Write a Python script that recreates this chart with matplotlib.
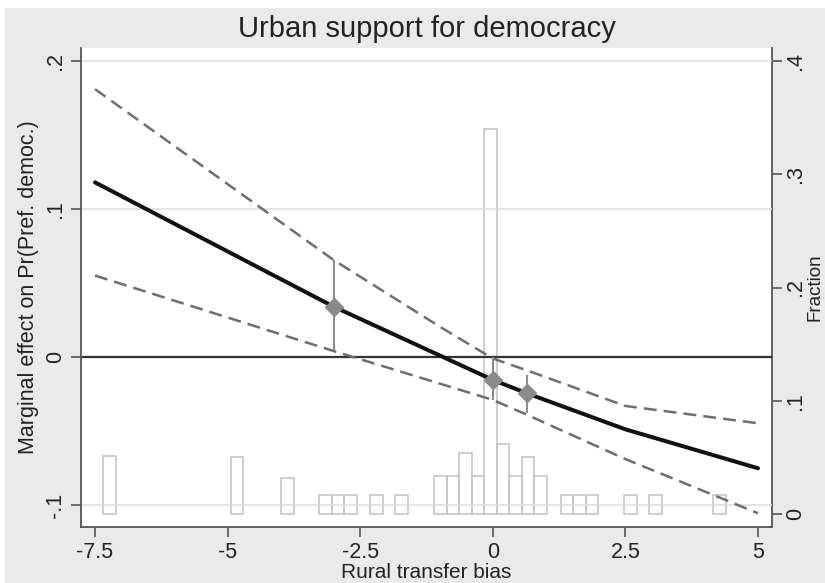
import numpy as np
import matplotlib
matplotlib.use("Agg")
import matplotlib.pyplot as plt
from matplotlib.patches import Rectangle

plt.rcParams['font.family'] = ['Liberation Sans', 'DejaVu Sans']

# marginal effect curve and 95% band
effect_x = [-7.5, -3, -1, 0, 0.64, 2.5, 5]
effect = [0.118, 0.034, 0.001, -0.0155, -0.0245, -0.0489, -0.0752]
ci_upper = [0.181, 0.0655, 0.0205, -0.001, -0.009, -0.0331, -0.0448]
ci_lower = [0.055, 0.004, -0.018, -0.029, -0.039, -0.069, -0.1056]

# point estimates with error bars
point_x = [-3, 0, 0.64]
point_y = [0.034, -0.0155, -0.0245]
point_lo = [0.0047, -0.029, -0.0376]
point_hi = [0.0655, 0.0002, -0.0122]

# histogram of rural transfer bias (fraction)
hist_centers = [-7.23, -4.82, -3.87, -3.15, -2.92, -2.68, -2.19, -1.72,
                -0.99, -0.75, -0.51, -0.28, -0.045, 0.19, 0.43, 0.66, 0.90,
                1.40, 1.635, 1.87, 2.60, 3.07, 4.27]
hist_frac = [0.051, 0.050, 0.032, 0.0165, 0.0165, 0.0165, 0.0165, 0.0165,
             0.0336, 0.0336, 0.0536, 0.0336, 0.340, 0.0615, 0.0336, 0.0506, 0.0336,
             0.0165, 0.0165, 0.0165, 0.0165, 0.0165, 0.0165]
bin_width = 0.236

xticks = [-7.5, -5, -2.5, 0, 2.5, 5]
xticklabels = ['-7.5', '-5', '-2.5', '0', '2.5', '5']
yticks = [-0.1, 0, 0.1, 0.2]
yticklabels = ['-.1', '0', '.1', '.2']
y2ticks = [0, 0.1, 0.2, 0.3, 0.4]
y2ticklabels = ['0', '.1', '.2', '.3', '.4']

W, H = 825, 583
fig = plt.figure(figsize=(W / 100, H / 100), dpi=100)
fig.patch.set_facecolor('white')
# grey graph region (small white strip on top/left like the scan)
fig.patches.append(Rectangle((5 / W, 0), 1, 1 - 8 / H, transform=fig.transFigure,
                             facecolor='#eaeaea', edgecolor='none', zorder=-10))

ax = fig.add_axes([81 / W, (H - 527) / H, (772 - 81) / W, (527 - 48) / H])
ax2 = ax.twinx()
ax.set_zorder(ax2.get_zorder() + 1)
ax.patch.set_visible(False)
ax2.patch.set_visible(True)
ax2.patch.set_facecolor('white')

# histogram on the right axis
ax2.bar(hist_centers, hist_frac, width=bin_width, fill=False,
        edgecolor='#c6c6c6', linewidth=1.2)
ax2.set_ylim(-0.0115, 0.4115)
ax2.set_yticks(y2ticks)
ax2.set_yticklabels(y2ticklabels, rotation=90, va='center', fontsize=15.5, color='#222222')
ax2.set_ylabel('Fraction', fontsize=13.5, labelpad=0, color='#222222')

# grid, zero line
for yv in [-0.1, 0.1, 0.2]:
    ax.axhline(yv, color='#dedede', lw=1.1, zorder=0)
ax.axhline(0, color='#333333', lw=1.6, zorder=1)

# confidence band and effect
ax.plot(effect_x, ci_upper, color='#6e6e6e', lw=1.8, dashes=(5.2, 2.8))
ax.plot(effect_x, ci_lower, color='#6e6e6e', lw=1.8, dashes=(5.2, 2.8))
ax.plot(effect_x, effect, color='#111111', lw=2.9, solid_capstyle='round')

ax.vlines(point_x, point_lo, point_hi, color='#8c8c8c', lw=1.5, zorder=3)
ax.plot(point_x, point_y, 'D', color='#8a8a8a', ms=9, zorder=4)

ax.set_xlim(-7.764, 5.264)
ax.set_ylim(-0.1149, 0.2088)
ax.set_xticks(xticks)
ax.set_xticklabels(xticklabels, fontsize=15.5, color='#222222')
ax.set_yticks(yticks)
ax.set_yticklabels(yticklabels, rotation=90, va='center', fontsize=15.5, color='#222222')
ax.set_xlabel('Rural transfer bias', fontsize=15, labelpad=0, color='#222222')
ax.set_ylabel('Marginal effect on Pr(Pref. democ.)', fontsize=15.5, labelpad=4, color='#222222')

for a in (ax, ax2):
    a.spines['top'].set_visible(False)
    for s in ('left', 'right', 'bottom'):
        a.spines[s].set_color('#555555')
        a.spines[s].set_linewidth(1.3)
    a.tick_params(length=7, width=1.2, color='#555555', pad=4)
ax2.tick_params(pad=2.5)
ax.spines['right'].set_visible(False)
ax2.spines['left'].set_visible(False)
ax2.spines['bottom'].set_visible(False)

fig.text((81 + 772) / 2 / W, 1 - 37 / H, 'Urban support for democracy',
         ha='center', va='baseline', fontsize=21, color='#222222')

fig.savefig('out.png', dpi=100)
